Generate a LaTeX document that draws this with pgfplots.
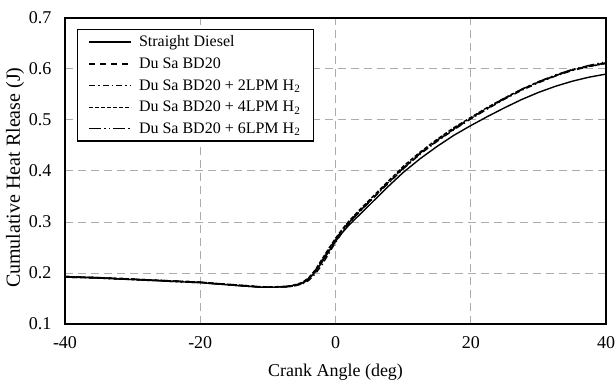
\documentclass[border=0pt]{standalone}
\usepackage{pgfplots}
\pgfplotsset{compat=1.18}
\usepackage{fontspec}
\setmainfont{Liberation Serif}
\begin{document}
\begin{tikzpicture}[font=\fontsize{18}{21}\selectfont]
\begin{axis}[
  scale only axis,
  width=541pt, height=306pt,
  xmin=-40, xmax=40, ymin=0.1, ymax=0.7,
  xtick={-40,-20,0,20,40},
  ytick={0.1,0.2,0.3,0.4,0.5,0.6,0.7},
  /pgf/number format/assume math mode=true,
  yticklabel style={/pgf/number format/fixed,/pgf/number format/precision=1,/pgf/number format/fixed zerofill, xshift=-10pt},
  xticklabel style={yshift=-9pt},
  major tick length=0pt,
  axis line style={line width=1.4pt},
  grid=major,
  major grid style={gray!65, line width=1pt, dash pattern=on 8pt off 5pt},
  xlabel={Crank Angle (deg)},
  ylabel={\fontsize{20}{23}\selectfont Cumulative Heat Rlease (J)},
  xlabel style={at={(axis description cs:0.5,-0.157)}, anchor=center},
  ylabel style={at={(axis description cs:-0.0925,0.478)}, anchor=center},
  legend cell align=left,
  legend style={at={(axis description cs:0.0222,0.964)}, anchor=north west,
    draw=black, line width=1.4pt, inner xsep=11pt, inner ysep=4pt, row sep=5.5pt,
    column sep=5pt,
    font=\fontsize{16}{18}\selectfont,
    nodes={inner sep=2pt}},
  legend image code/.code={\draw[#1, line width=1.3pt] (0pt,0pt) -- (42pt,0pt);},
  every axis plot/.append style={line width=1.4pt, black},
]
\addplot[solid] coordinates {
(-40,0.192) (-35,0.190) (-30,0.187) (-25,0.184) (-20,0.181) (-17,0.178) (-14,0.175) (-11,0.172) (-9,0.172) (-7,0.174) (-6,0.176) (-5,0.180) (-4,0.188) (-3,0.202) (-2,0.221) (-1,0.242) (0,0.262) (1,0.279) (2,0.294) (3,0.307) (4,0.320) (5,0.333) (7.5,0.366) (10,0.397) (12.5,0.424) (15,0.448) (17.5,0.470) (20,0.489) (22.5,0.507) (25,0.524) (27.5,0.540) (30,0.554) (32.5,0.566) (35,0.576) (37.5,0.584) (40,0.590)};
\addlegendentry{Straight Diesel}
\addplot[dash pattern=on 6pt off 5pt] coordinates {
(-40,0.193) (-35,0.191) (-30,0.188) (-25,0.185) (-20,0.182) (-17,0.179) (-14,0.176) (-11,0.173) (-9,0.172) (-7,0.174) (-6,0.176) (-5,0.180) (-4,0.189) (-3,0.205) (-2,0.225) (-1,0.246) (0,0.266) (1,0.284) (2,0.300) (3,0.314) (4,0.327) (5,0.340) (7.5,0.373) (10,0.405) (12.5,0.434) (15,0.459) (17.5,0.482) (20,0.503) (22.5,0.523) (25,0.542) (27.5,0.559) (30,0.574) (32.5,0.587) (35,0.598) (37.5,0.606) (40,0.612)};
\addlegendentry{Du Sa BD20}
\addplot[dash pattern=on 6pt off 3pt on 1.5pt off 3pt] coordinates {
(-40,0.193) (-35,0.191) (-30,0.188) (-25,0.185) (-20,0.182) (-17,0.178) (-14,0.175) (-11,0.172) (-9,0.172) (-7,0.173) (-6,0.175) (-5,0.178) (-4,0.185) (-3,0.198) (-2,0.216) (-1,0.238) (0,0.260) (1,0.280) (2,0.297) (3,0.312) (4,0.326) (5,0.339) (7.5,0.372) (10,0.404) (12.5,0.433) (15,0.458) (17.5,0.481) (20,0.502) (22.5,0.522) (25,0.541) (27.5,0.558) (30,0.573) (32.5,0.586) (35,0.597) (37.5,0.605) (40,0.611)};
\addlegendentry{Du Sa BD20 + 2LPM H\textsubscript{2}}
\addplot[dash pattern=on 4pt off 2pt] coordinates {
(-40,0.193) (-35,0.191) (-30,0.188) (-25,0.185) (-20,0.182) (-17,0.179) (-14,0.176) (-11,0.173) (-9,0.173) (-7,0.174) (-6,0.177) (-5,0.181) (-4,0.190) (-3,0.206) (-2,0.227) (-1,0.248) (0,0.268) (1,0.286) (2,0.302) (3,0.316) (4,0.330) (5,0.343) (7.5,0.376) (10,0.409) (12.5,0.437) (15,0.462) (17.5,0.485) (20,0.505) (22.5,0.525) (25,0.543) (27.5,0.560) (30,0.575) (32.5,0.587) (35,0.598) (37.5,0.605) (40,0.611)};
\addlegendentry{Du Sa BD20 + 4LPM H\textsubscript{2}}
\addplot[dash pattern=on 12pt off 3pt on 1.5pt off 3pt on 1.5pt off 3pt] coordinates {
(-40,0.192) (-35,0.190) (-30,0.187) (-25,0.184) (-20,0.181) (-17,0.178) (-14,0.175) (-11,0.172) (-9,0.172) (-7,0.173) (-6,0.175) (-5,0.179) (-4,0.187) (-3,0.203) (-2,0.223) (-1,0.244) (0,0.265) (1,0.283) (2,0.299) (3,0.313) (4,0.327) (5,0.340) (7.5,0.374) (10,0.406) (12.5,0.435) (15,0.460) (17.5,0.483) (20,0.504) (22.5,0.524) (25,0.543) (27.5,0.560) (30,0.575) (32.5,0.588) (35,0.599) (37.5,0.607) (40,0.614)};
\addlegendentry{Du Sa BD20 + 6LPM H\textsubscript{2}}
\end{axis}
\pgfresetboundingbox
\path[use as bounding box] ([xshift=-65pt,yshift=-55pt]current axis.south west) rectangle ([xshift=9pt,yshift=18pt]current axis.north east);
\end{tikzpicture}
\end{document}
